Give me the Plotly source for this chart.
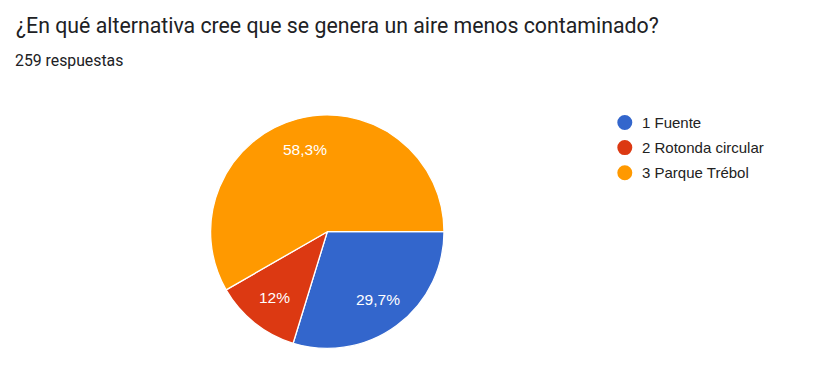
import math
import plotly.graph_objects as go

categories = ["1 Fuente", "2 Rotonda circular", "3 Parque Trébol"]
counts = [77, 31, 151]
pct_labels = ["29,7%", "12%", "58,3%"]
colors = ["#3366cc", "#dc3912", "#ff9900"]

title_text = "¿En qué alternativa cree que se genera un aire menos contaminado?"
subtitle_text = "259 respuestas"

W, H = 814, 378
cx, cy, r = 327.3, 231.7, 116.7
label_r = 0.725 * r
label_font = dict(family="Liberation Sans, Arial", size=15.5, color="white")
legend_font = dict(family="Liberation Sans, Arial", size=15, color="#222222")

fig = go.Figure()
fig.add_trace(go.Pie(
    labels=categories, values=counts, text=pct_labels,
    textinfo="none",
    marker=dict(colors=colors, line=dict(color="white", width=1.3)),
    sort=False, direction="clockwise", rotation=90,
    showlegend=False, hovertemplate="%{label}: %{value} (%{text})<extra></extra>",
    domain=dict(x=[(cx - r) / W, (cx + r) / W], y=[(H - cy - r) / H, (H - cy + r) / H]),
))

annotations = [
    dict(text=title_text, x=14 / W, y=1 - 25 / H, xref="paper", yref="paper",
         xanchor="left", yanchor="middle", showarrow=False,
         font=dict(family="Roboto", size=21.3, color="#202124")),
    dict(text=subtitle_text, x=13 / W, y=1 - 60 / H, xref="paper", yref="paper",
         xanchor="left", yanchor="middle", showarrow=False,
         font=dict(family="Roboto", size=15.8, color="#202124")),
]

# slice labels at mid-angle of each slice (clockwise from 3 o'clock)
total = sum(counts)
cum = 0
for v, lab in zip(counts, pct_labels):
    mid = (cum + v / 2) / total * 2 * math.pi
    cum += v
    px = cx + label_r * math.cos(mid)
    py = cy + label_r * math.sin(mid)
    annotations.append(dict(text=lab, x=px / W, y=1 - py / H, xref="paper", yref="paper",
                            xanchor="center", yanchor="middle", showarrow=False,
                            font=label_font))

# legend: circles + text
shapes = []
leg_x, leg_y0, leg_dy, rad = 624.8, 122.5, 25.1, 7.5
for i, (name, col) in enumerate(zip(categories, colors)):
    yy = leg_y0 + i * leg_dy
    shapes.append(dict(type="circle", xref="paper", yref="paper",
                       x0=(leg_x - rad) / W, x1=(leg_x + rad) / W,
                       y0=1 - (yy + rad) / H, y1=1 - (yy - rad) / H,
                       fillcolor=col, line=dict(width=0)))
    annotations.append(dict(text=name, x=639.5 / W, y=1 - yy / H, xref="paper", yref="paper",
                            xanchor="left", yanchor="middle", showarrow=False,
                            font=legend_font))

fig.update_layout(
    width=W, height=H,
    margin=dict(l=0, r=0, t=0, b=0),
    paper_bgcolor="white", plot_bgcolor="white",
    showlegend=False,
    annotations=annotations,
    shapes=shapes,
)

fig.write_html("out.html", config={"displayModeBar": False},
               post_script="document.body.style.margin='0';")
